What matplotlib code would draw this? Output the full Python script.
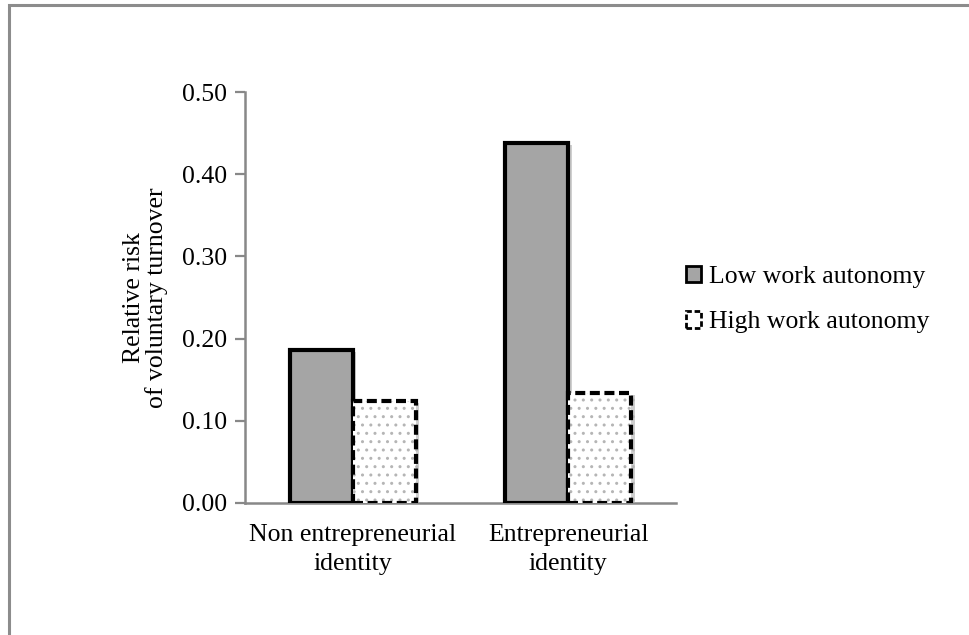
import matplotlib
matplotlib.use("Agg")
import matplotlib.pyplot as plt
import matplotlib.patheffects as pe
from matplotlib.patches import Rectangle
import numpy as np

categories = ["Non entrepreneurial\nidentity", "Entrepreneurial\nidentity"]
series_names = ["Low work autonomy", "High work autonomy"]
low_autonomy = [0.186, 0.438]
high_autonomy = [0.124, 0.134]
yticks = [0.0, 0.1, 0.2, 0.3, 0.4, 0.5]

plt.rcParams['font.family'] = ['Liberation Serif', 'DejaVu Serif']
plt.rcParams['font.size'] = 18.5
plt.rcParams['hatch.linewidth'] = 1.0

fig = plt.figure(figsize=(9.69, 6.35), dpi=100)
ax = fig.add_axes([0.2528, 0.2079, 0.4448, 0.6472])

# outer frame (runs off right/bottom edges like the original crop)
fig.patches.append(Rectangle((9 / 969, -0.05), 1.2, 1 - 5 / 635 + 0.05,
                             transform=fig.transFigure, fill=False,
                             edgecolor='#8c8c8c', linewidth=2.2))

x = np.arange(len(categories))
w = 0.293
shadow = [pe.SimplePatchShadow(offset=(2.5, -1.5), shadow_rgbFace='#b0b0b0', alpha=0.6), pe.Normal()]

ax.bar(x - w / 2, low_autonomy, w, color='#a5a5a5', edgecolor='black',
       linewidth=3, path_effects=shadow, zorder=3)
ax.bar(x + w / 2, high_autonomy, w, color='white', edgecolor='#b5b5b5',
       hatch='..', linewidth=0, path_effects=shadow, zorder=3)
ax.bar(x + w / 2, high_autonomy, w, fill=False, edgecolor='black',
       linewidth=3, linestyle=(0, (2.4, 1.1)), zorder=4)

ax.set_xlim(-0.5, 1.5)
ax.set_ylim(0, 0.5)
ax.set_yticks(yticks)
ax.set_yticklabels([f"{v:.2f}" for v in yticks])
ax.set_xticks(x)
ax.set_xticklabels(categories, linespacing=1.4)
ax.tick_params(axis='x', length=0, pad=15)
ax.tick_params(axis='y', length=7, width=1.6, color='#888888', pad=6)

for s in ['top', 'right']:
    ax.spines[s].set_visible(False)
for s in ['left', 'bottom']:
    ax.spines[s].set_color('#888888')
    ax.spines[s].set_linewidth(1.8)

ax.set_ylabel("Relative risk\nof voluntary turnover", labelpad=10, linespacing=1.0)

h1 = Rectangle((0, 0), 1, 1, facecolor='#a5a5a5', edgecolor='black', linewidth=2)
h2 = Rectangle((0, 0), 1, 1, facecolor='white', edgecolor='black', linewidth=2,
               linestyle=(0, (2, 1)))
fig.legend([h1, h2], series_names, loc='center left',
           bbox_to_anchor=(0.684, 0.528), frameon=False,
           handlelength=0.6, handleheight=0.6, handletextpad=0.3,
           labelspacing=0.9, fontsize=18.5)

fig.savefig("out.png", dpi=100)
